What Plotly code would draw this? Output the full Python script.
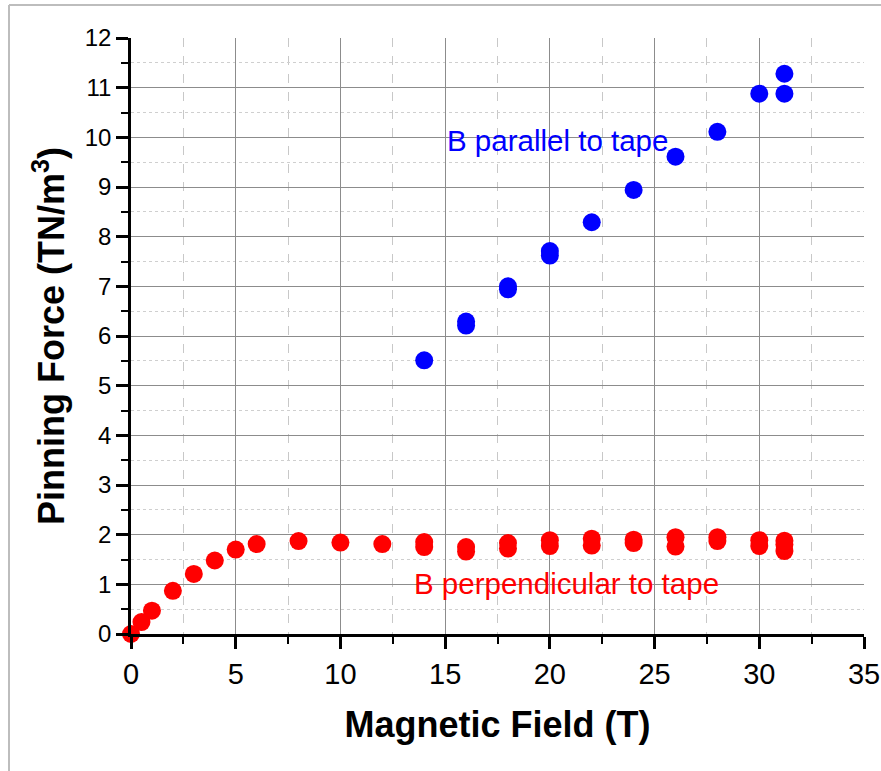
import plotly.graph_objects as go

# Pinning force vs. applied field for two field orientations
perp_field = [0, 0.5, 1, 2, 3, 4, 5, 6, 8, 10, 12, 14, 14, 16, 16, 18, 18,
              20, 20, 22, 22, 24, 24, 26, 26, 28, 28, 30, 30, 31.2, 31.2, 31.2]
perp_force = [0, 0.24, 0.47, 0.87, 1.21, 1.48, 1.70, 1.81, 1.87, 1.84, 1.81,
              1.85, 1.75, 1.75, 1.66, 1.83, 1.72, 1.89, 1.77, 1.92, 1.78,
              1.90, 1.83, 1.95, 1.76, 1.95, 1.87, 1.89, 1.77, 1.88, 1.80, 1.67]

par_field = [14, 16, 16, 18, 18, 20, 20, 22, 24, 26, 28, 30, 31.2, 31.2]
par_force = [5.51, 6.29, 6.21, 7.00, 6.94, 7.71, 7.62, 8.29, 8.94, 9.61,
             10.11, 10.88, 10.88, 11.28]

x_ticks = [0, 5, 10, 15, 20, 25, 30, 35]
y_ticks = list(range(0, 13))

FONT = "Liberation Sans, Arial, sans-serif"
W, H = 881, 771
L, R, T, B = 131, 17, 38, 136.5

fig = go.Figure()
fig.add_trace(go.Scatter(
    x=par_field, y=par_force, mode="markers",
    marker=dict(color="#0000FF", size=18, line=dict(width=0)),
    cliponaxis=False, showlegend=False,
))
fig.add_trace(go.Scatter(
    x=perp_field, y=perp_force, mode="markers",
    marker=dict(color="#FF0000", size=18, line=dict(width=0)),
    cliponaxis=False, showlegend=False,
))

fig.add_annotation(x=15.0, y=9.93, text="B parallel to tape", showarrow=False,
                   xanchor="left", yanchor="middle",
                   font=dict(family=FONT, size=29.5, color="#0000FF"))
fig.add_annotation(x=13.4, y=1.01, text="B perpendicular to tape", showarrow=False,
                   xanchor="left", yanchor="middle",
                   font=dict(family=FONT, size=29.5, color="#FF0000"))

# thin frame along the top and left edges of the page
pw = W - L - R
ph = H - T - B
def px_x(p):
    return (p - L) / pw
def px_y(p):
    return (H - B - p) / ph
frame = dict(color="#BDBDBD", width=2)
fig.add_shape(type="line", xref="paper", yref="paper",
              x0=px_x(9), x1=px_x(W + 5), y0=px_y(5), y1=px_y(5), line=frame, layer="above")
fig.add_shape(type="line", xref="paper", yref="paper",
              x0=px_x(9), x1=px_x(9), y0=px_y(5), y1=px_y(H + 5), line=frame, layer="above")

fig.update_xaxes(
    range=[0, 35.0001], tickvals=x_ticks, ticktext=[str(v) for v in x_ticks],
    ticklabeloverflow="allow",
    showline=True, linecolor="black", linewidth=2.5,
    ticks="outside", ticklen=12, tickwidth=2.5, tickcolor="black",
    tickfont=dict(family=FONT, size=29, color="black"),
    showgrid=True, gridcolor="#8C8C8C", gridwidth=1, zeroline=False,
    minor=dict(dtick=2.5, tick0=0, ticks="outside", ticklen=7, tickwidth=2,
               tickcolor="black", showgrid=True, gridcolor="#C8C8C8",
               griddash="dash", gridwidth=1),
    title=dict(text="<b>Magnetic Field (T)</b>", standoff=24,
               font=dict(family=FONT, size=36, color="black")),
)
fig.update_yaxes(
    range=[0, 12], tickvals=y_ticks, ticktext=[str(v) for v in y_ticks],
    showline=True, linecolor="black", linewidth=2.5,
    ticks="outside", ticklen=12, tickwidth=2.5, tickcolor="black",
    tickfont=dict(family=FONT, size=24, color="black"),
    showgrid=True, gridcolor="#8C8C8C", gridwidth=1, zeroline=False,
    minor=dict(dtick=0.5, tick0=0, ticks="outside", ticklen=7, tickwidth=2,
               tickcolor="black", showgrid=True, gridcolor="#CFCFCF",
               griddash="dot", gridwidth=1),
    title=dict(text="<b>Pinning Force (TN/m<sup>3</sup>)</b>", standoff=10,
               font=dict(family=FONT, size=36, color="black")),
)

fig.update_layout(
    width=W, height=H,
    margin=dict(l=L, r=R, t=T, b=B, autoexpand=False),
    paper_bgcolor="white", plot_bgcolor="white",
)

fig.write_html("out.html")
